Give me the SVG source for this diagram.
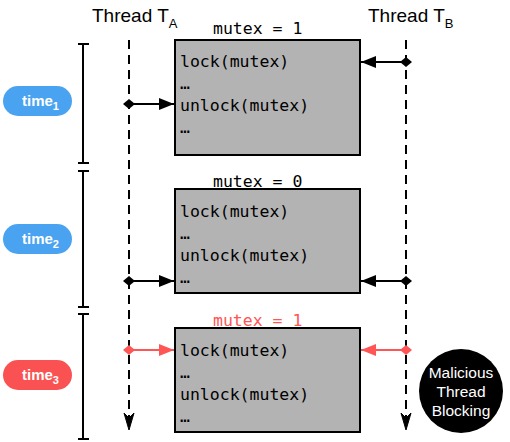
<svg xmlns="http://www.w3.org/2000/svg" width="510" height="442" viewBox="0 0 510 442">
<style>
.th{font-family:"Liberation Sans",Arial,sans-serif;font-size:19px;fill:#000}
.sub{font-size:13px}
.mono{font-family:"DejaVu Sans Mono",monospace;font-size:16.5px;fill:#000}
.box{fill:#b3b3b3;stroke:#000;stroke-width:2}
.life{stroke:#000;stroke-width:2;stroke-dasharray:9,6;fill:none}
.bar{stroke:#000;stroke-width:2;fill:none}
.pill-t{font-family:"Liberation Sans",Arial,sans-serif;font-weight:bold;font-size:15px;fill:#fff}
.conn{stroke:#000;stroke-width:2;fill:none}
.conn-r{stroke:#f55;stroke-width:2;fill:none}
.circ-t{font-family:"Liberation Sans",Arial,sans-serif;font-size:15.5px;fill:#fff}
</style>
<defs>
<marker id="ah" viewBox="0 0 15 12" refX="15" refY="6" markerWidth="15" markerHeight="12" markerUnits="userSpaceOnUse" orient="auto"><path d="M0,0 L15,6 L0,12 z" fill="#000"/></marker>
<marker id="ahr" viewBox="0 0 15 12" refX="15" refY="6" markerWidth="15" markerHeight="12" markerUnits="userSpaceOnUse" orient="auto"><path d="M0,0 L15,6 L0,12 z" fill="#f55"/></marker>
<marker id="dm" viewBox="0 0 12 10" refX="6" refY="5" markerWidth="12" markerHeight="10" markerUnits="userSpaceOnUse" orient="auto"><path d="M0,5 L6,0 L12,5 L6,10 z" fill="#000"/></marker>
<marker id="dmr" viewBox="0 0 12 10" refX="6" refY="5" markerWidth="12" markerHeight="10" markerUnits="userSpaceOnUse" orient="auto"><path d="M0,5 L6,0 L12,5 L6,10 z" fill="#f55"/></marker>
</defs>

<g id="threadA">
<text class="th" x="92" y="22">Thread T<tspan class="sub" dy="6">A</tspan></text>
<line class="life" x1="129" y1="40" x2="129" y2="422"/>
<path d="M124,413 L129,430 L134,413 L129,418 z" fill="#000" stroke="#000" stroke-width="1"/>
</g>
<g id="threadB">
<text class="th" x="368" y="22">Thread T<tspan class="sub" dy="6">B</tspan></text>
<line class="life" x1="406" y1="40" x2="406" y2="422"/>
<path d="M401,413 L406,430 L411,413 L406,418 z" fill="#000" stroke="#000" stroke-width="1"/>
</g>

<g id="timebar">
<path class="bar" d="M83,44 V163 M78,44 H89 M78,163 H89"/>
<path class="bar" d="M83,171 V307 M78,171 H89 M78,307 H89"/>
<path class="bar" d="M83,314 V439 M78,314 H89 M78,439 H89"/>
</g>

<g id="time1">
<rect x="3" y="86" width="69" height="30" rx="15" fill="#4aa3f0"/>
<text class="pill-t" x="22" y="106">time<tspan font-size="11" dy="4">1</tspan></text>
</g>
<g id="time2">
<rect x="3" y="224" width="69" height="30" rx="15" fill="#4aa3f0"/>
<text class="pill-t" x="22" y="244">time<tspan font-size="11" dy="4">2</tspan></text>
</g>
<g id="time3">
<rect x="3" y="360" width="69" height="30" rx="15" fill="#fa5252"/>
<text class="pill-t" x="22" y="380">time<tspan font-size="11" dy="4">3</tspan></text>
</g>

<g id="box1">
<text class="mono" x="213" y="34">mutex = 1</text>
<rect class="box" x="175" y="40" width="185" height="115"/>
<text class="mono" x="180" y="67">lock(mutex)</text>
<text class="mono" x="180" y="89">…</text>
<text class="mono" x="180" y="111">unlock(mutex)</text>
<text class="mono" x="180" y="133">…</text>
</g>
<g id="box2">
<text class="mono" x="213" y="187">mutex = 0</text>
<rect class="box" x="175" y="189" width="185" height="104"/>
<text class="mono" x="180" y="217">lock(mutex)</text>
<text class="mono" x="180" y="239">…</text>
<text class="mono" x="180" y="261">unlock(mutex)</text>
<text class="mono" x="180" y="283">…</text>
</g>
<g id="box3">
<text class="mono" x="213" y="326" style="fill:#f55">mutex = 1</text>
<rect class="box" x="175" y="328" width="185" height="104"/>
<text class="mono" x="180" y="356">lock(mutex)</text>
<text class="mono" x="180" y="378">…</text>
<text class="mono" x="180" y="400">unlock(mutex)</text>
<text class="mono" x="180" y="422">…</text>
</g>

<g id="malicious">
<circle cx="461" cy="391" r="42" fill="#000"/>
<text class="circ-t" x="461" y="378" text-anchor="middle">Malicious</text>
<text class="circ-t" x="461" y="397" text-anchor="middle">Thread</text>
<text class="circ-t" x="461" y="416" text-anchor="middle">Blocking</text>
</g>

<g id="connectors">
<line class="conn" x1="129" y1="104" x2="174" y2="104" marker-start="url(#dm)" marker-end="url(#ah)"/>
<line class="conn" x1="406" y1="62" x2="361" y2="62" marker-start="url(#dm)" marker-end="url(#ah)"/>
<line class="conn" x1="129" y1="281" x2="174" y2="281" marker-start="url(#dm)" marker-end="url(#ah)"/>
<line class="conn" x1="406" y1="281" x2="361" y2="281" marker-start="url(#dm)" marker-end="url(#ah)"/>
<line class="conn-r" x1="129" y1="350" x2="174" y2="350" marker-start="url(#dmr)" marker-end="url(#ahr)"/>
<line class="conn-r" x1="406" y1="350" x2="361" y2="350" marker-start="url(#dmr)" marker-end="url(#ahr)"/>
</g>
</svg>
